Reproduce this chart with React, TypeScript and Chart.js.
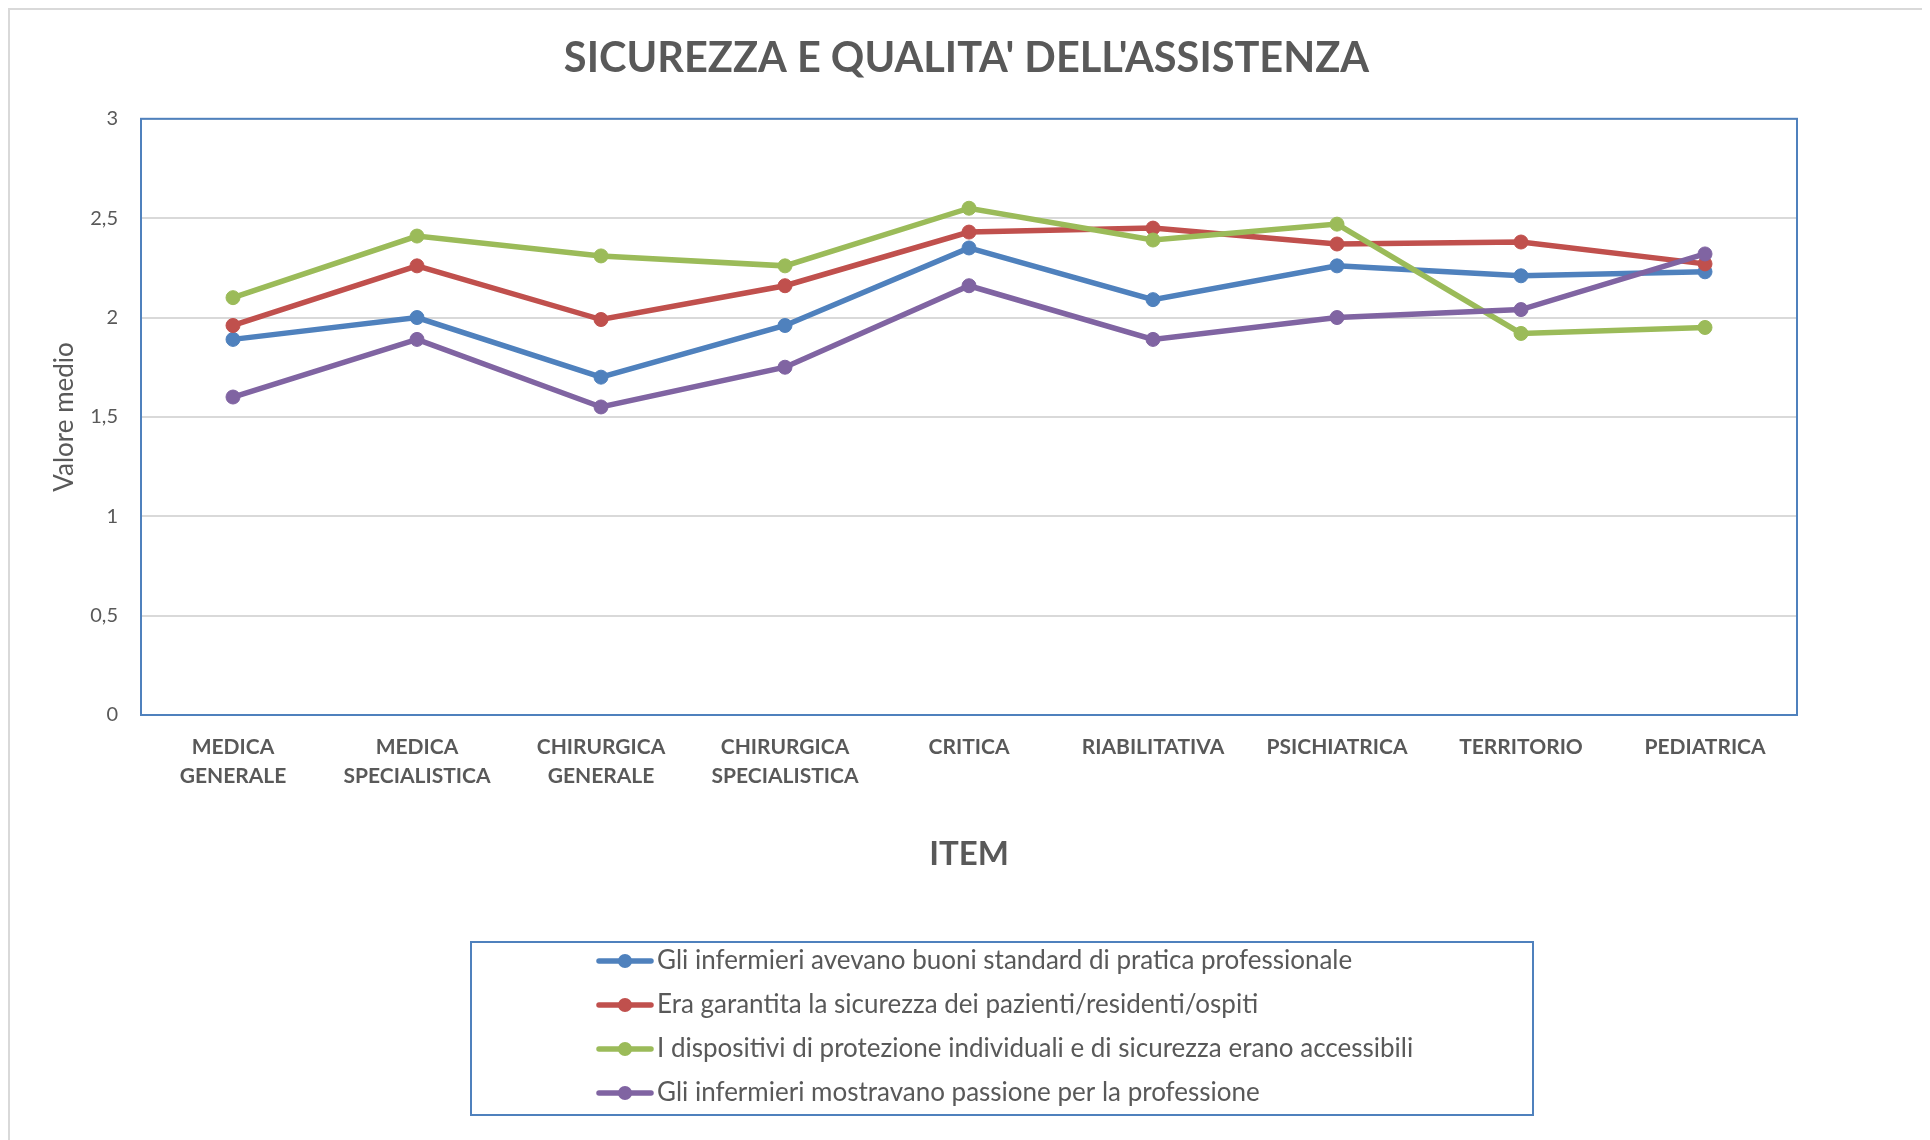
import React, { useEffect, useRef } from "react";
import { Chart, registerables } from "chart.js";

Chart.register(...registerables);

const categories: string[][] = [
  ["MEDICA", "GENERALE"],
  ["MEDICA", "SPECIALISTICA"],
  ["CHIRURGICA", "GENERALE"],
  ["CHIRURGICA", "SPECIALISTICA"],
  ["CRITICA"],
  ["RIABILITATIVA"],
  ["PSICHIATRICA"],
  ["TERRITORIO"],
  ["PEDIATRICA"],
];

const seriesNames = [
  "Gli infermieri avevano buoni standard di pratica professionale",
  "Era garantita la sicurezza dei pazienti/residenti/ospiti",
  "I dispositivi di protezione individuali e di sicurezza erano accessibili",
  "Gli infermieri mostravano passione per la professione",
];

const standardValues = [1.89, 2.0, 1.7, 1.96, 2.35, 2.09, 2.26, 2.21, 2.23];
const sicurezzaValues = [1.96, 2.26, 1.99, 2.16, 2.43, 2.45, 2.37, 2.38, 2.27];
const dispositiviValues = [2.1, 2.41, 2.31, 2.26, 2.55, 2.39, 2.47, 1.92, 1.95];
const passioneValues = [1.6, 1.89, 1.55, 1.75, 2.16, 1.89, 2.0, 2.04, 2.32];

const seriesColors = ["#4F81BD", "#C0504D", "#9BBB59", "#8064A2"];

const yTicks = { min: 0, max: 3, step: 0.5 };

const TEXT = "#595959";
const FONT = "Lato, 'Open Sans', sans-serif";

const frameAndLegend = {
  id: "frameAndLegend",
  beforeDatasetsDraw(chart: any) {
    const { ctx, chartArea } = chart;
    ctx.save();
    ctx.strokeStyle = "#4F81BD";
    ctx.lineWidth = 2;
    ctx.strokeRect(chartArea.left, chartArea.top, chartArea.right - chartArea.left, chartArea.bottom - chartArea.top);
    ctx.restore();
  },
  afterDraw(chart: any) {
    const { ctx } = chart;
    ctx.save();
    ctx.strokeStyle = "#4F81BD";
    ctx.lineWidth = 2;
    ctx.strokeRect(461, 932, 1062, 173);
    chart.data.datasets.forEach((ds: any, i: number) => {
      const cy = 951 + i * 44;
      ctx.strokeStyle = ds.borderColor;
      ctx.lineWidth = 5.5;
      ctx.lineCap = "round";
      ctx.beginPath();
      ctx.moveTo(589, cy);
      ctx.lineTo(641, cy);
      ctx.stroke();
      ctx.fillStyle = ds.borderColor;
      ctx.beginPath();
      ctx.arc(615, cy, 7, 0, Math.PI * 2);
      ctx.fill();
      ctx.fillStyle = TEXT;
      ctx.font = `26px ${FONT}`;
      ctx.textBaseline = "middle";
      ctx.textAlign = "left";
      ctx.fillText(ds.label, 647, cy);
    });
    ctx.restore();
  },
};

export default function App() {
  const ref = useRef<HTMLCanvasElement | null>(null);

  useEffect(() => {
    document.documentElement.style.overflow = "hidden";
    document.body.style.overflow = "hidden";
    if (!ref.current) return;
    const values = [standardValues, sicurezzaValues, dispositiviValues, passioneValues];
    const chart = new Chart(ref.current, {
      type: "line",
      data: {
        labels: categories,
        datasets: values.map((v, i) => ({
          label: seriesNames[i],
          data: v,
          borderColor: seriesColors[i],
          backgroundColor: seriesColors[i],
          pointBackgroundColor: seriesColors[i],
          pointBorderColor: seriesColors[i],
          borderWidth: 5.5,
          pointRadius: 7,
          pointBorderWidth: 1,
          tension: 0,
          order: values.length - i,
        })),
      },
      options: {
        animation: false,
        responsive: true,
        maintainAspectRatio: false,
        layout: { padding: { top: 0, left: 0, right: 0, bottom: 245 } },
        plugins: {
          legend: { display: false },
          tooltip: { enabled: false },
          title: {
            display: true,
            text: "SICUREZZA E QUALITA' DELL'ASSISTENZA",
            color: TEXT,
            font: { family: FONT, size: 41.5, weight: "bold", lineHeight: 1.2 },
            padding: { top: 24, bottom: 35 },
          },
        },
        scales: {
          x: {
            offset: true,
            grid: { display: false, drawTicks: false },
            border: { display: false },
            ticks: {
              color: TEXT,
              font: { family: FONT, size: 21, weight: "bold", lineHeight: 1.38 },
              padding: 17.5,
              maxRotation: 0,
              autoSkip: false,
            },
            title: {
              display: true,
              text: "ITEM",
              color: TEXT,
              font: { family: FONT, size: 33, weight: "bold", lineHeight: 1.2 },
              padding: { top: 0, bottom: 21 },
            },
            afterFit(scale: any) {
              scale.height = 180;
            },
          },
          y: {
            min: yTicks.min,
            max: yTicks.max,
            grid: { color: "#D9D9D9", lineWidth: 2, drawTicks: false },
            border: { display: false },
            ticks: {
              stepSize: yTicks.step,
              color: TEXT,
              font: { family: FONT, size: 20 },
              padding: 23,
              callback: (v: any) => String(v).replace(".", ","),
            },
            title: {
              display: true,
              text: "Valore medio",
              color: TEXT,
              font: { family: FONT, size: 26, lineHeight: 1.2 },
              padding: { top: 39.5, bottom: 0 },
            },
            afterFit(scale: any) {
              scale.width = 131;
            },
          },
          yRight: {
            type: "linear",
            position: "right",
            min: yTicks.min,
            max: yTicks.max,
            grid: { display: false, drawTicks: false },
            border: { display: false },
            ticks: { display: false },
            afterFit(scale: any) {
              scale.width = 126;
            },
          },
        },
      },
      plugins: [frameAndLegend],
    });
    return () => chart.destroy();
  }, []);

  return (
    <div
      style={{
        position: "relative",
        width: 1917,
        height: 1132,
        borderTop: "2px solid #D9D9D9",
        borderLeft: "2px solid #D9D9D9",
        borderRight: "2px solid #D9D9D9",
        boxSizing: "border-box",
        background: "#fff",
      }}
    >
      <canvas ref={ref} />
    </div>
  );
}
